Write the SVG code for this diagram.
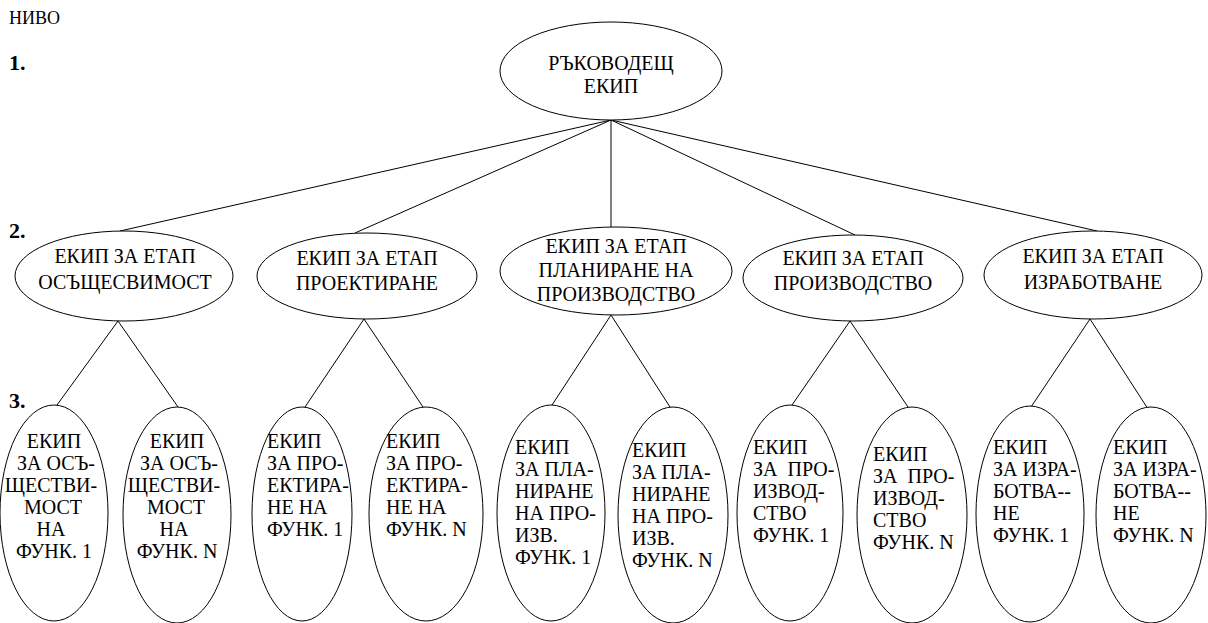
<svg xmlns="http://www.w3.org/2000/svg" width="1208" height="623" viewBox="0 0 1208 623">
<style>
.n{fill:#fff;stroke:#000;stroke-width:1}
.t{font-family:"Liberation Serif","Times New Roman",serif;font-size:20px;fill:#000}
.c{text-anchor:middle}
.b{font-weight:bold;font-size:22px}
.s{font-size:18px}
.e{stroke:#000;stroke-width:1;fill:none}
</style>
<rect width="1208" height="623" fill="#fff"/>
<g id="levels" class="t">
<text class="s" x="9" y="24">НИВО</text>
<text class="b" x="9" y="70">1.</text>
<text class="b" x="9" y="238">2.</text>
<text class="b" x="9" y="408">3.</text>
</g>
<g id="connectors" class="e">
<line x1="611" y1="120" x2="120" y2="231"/>
<line x1="611" y1="120" x2="355" y2="233"/>
<line x1="611" y1="120" x2="611" y2="227"/>
<line x1="611" y1="120" x2="855" y2="235"/>
<line x1="611" y1="120" x2="1097" y2="231"/>
<line x1="118" y1="321" x2="57" y2="405"/>
<line x1="118" y1="321" x2="178" y2="407"/>
<line x1="364" y1="319" x2="305" y2="407"/>
<line x1="364" y1="319" x2="423" y2="407"/>
<line x1="611" y1="315" x2="552" y2="405"/>
<line x1="611" y1="315" x2="670" y2="407"/>
<line x1="850" y1="321" x2="792" y2="405"/>
<line x1="850" y1="321" x2="908" y2="407"/>
<line x1="1090" y1="319" x2="1031" y2="407"/>
<line x1="1090" y1="319" x2="1148" y2="409"/>
</g>
<g id="root">
<ellipse class="n" cx="611" cy="71" rx="111" ry="49"/>
<text class="t c" x="611" y="70">РЪКОВОДЕЩ</text>
<text class="t c" x="611" y="93">ЕКИП</text>
</g>
<g id="s1">
<ellipse class="n" cx="124" cy="276" rx="109" ry="45"/>
<text class="t c" x="125" y="263">ЕКИП ЗА ЕТАП</text>
<text class="t c" x="125" y="289">ОСЪЩЕСВИМОСТ</text>
</g>
<g id="s2">
<ellipse class="n" cx="367" cy="276" rx="110" ry="43"/>
<text class="t c" x="367" y="265">ЕКИП ЗА ЕТАП</text>
<text class="t c" x="367" y="290">ПРОЕКТИРАНЕ</text>
</g>
<g id="s3">
<ellipse class="n" cx="616" cy="271" rx="116" ry="44"/>
<text class="t c" x="616" y="253">ЕКИП ЗА ЕТАП</text>
<text class="t c" x="616" y="277">ПЛАНИРАНЕ НА</text>
<text class="t c" x="616" y="301">ПРОИЗВОДСТВО</text>
</g>
<g id="s4">
<ellipse class="n" cx="853" cy="278" rx="110" ry="43"/>
<text class="t c" x="853" y="265">ЕКИП ЗА ЕТАП</text>
<text class="t c" x="853" y="290">ПРОИЗВОДСТВО</text>
</g>
<g id="s5">
<ellipse class="n" cx="1093" cy="275" rx="109" ry="44"/>
<text class="t c" x="1093" y="263">ЕКИП ЗА ЕТАП</text>
<text class="t c" x="1093" y="289">ИЗРАБОТВАНЕ</text>
</g>
<g id="f1">
<ellipse class="n" cx="54" cy="513" rx="54" ry="108"/>
<text class="t c"><tspan x="54" y="448">ЕКИП</tspan><tspan x="56" y="470">ЗА ОСЪ-</tspan><tspan x="51" y="492">ЩЕСТВИ-</tspan><tspan x="53" y="514">МОСТ</tspan><tspan x="51" y="536">НА</tspan><tspan x="54" y="558">ФУНК. 1</tspan></text>
</g>
<g id="f2">
<ellipse class="n" cx="177" cy="515" rx="54" ry="108"/>
<text class="t c"><tspan x="177" y="448">ЕКИП</tspan><tspan x="179" y="470">ЗА ОСЪ-</tspan><tspan x="174" y="492">ЩЕСТВИ-</tspan><tspan x="176" y="514">МОСТ</tspan><tspan x="174" y="536">НА</tspan><tspan x="177" y="558">ФУНК. N</tspan></text>
</g>
<g id="f3">
<ellipse class="n" cx="302" cy="514" rx="50" ry="107"/>
<text class="t"><tspan x="267" y="448">ЕКИП</tspan><tspan x="267" y="470">ЗА ПРО-</tspan><tspan x="267" y="492">ЕКТИРА-</tspan><tspan x="267" y="514">НЕ НА</tspan><tspan x="267" y="536">ФУНК. 1</tspan></text>
</g>
<g id="f4">
<ellipse class="n" cx="426" cy="514" rx="57" ry="107"/>
<text class="t"><tspan x="386" y="448">ЕКИП</tspan><tspan x="386" y="470">ЗА ПРО-</tspan><tspan x="386" y="492">ЕКТИРА-</tspan><tspan x="386" y="514">НЕ НА</tspan><tspan x="386" y="536">ФУНК. N</tspan></text>
</g>
<g id="f5">
<ellipse class="n" cx="551" cy="513" rx="54" ry="108"/>
<text class="t"><tspan x="515" y="454">ЕКИП</tspan><tspan x="515" y="476">ЗА ПЛА-</tspan><tspan x="515" y="498">НИРАНЕ</tspan><tspan x="515" y="520">НА ПРО-</tspan><tspan x="515" y="542">ИЗВ.</tspan><tspan x="515" y="564">ФУНК. 1</tspan></text>
</g>
<g id="f6">
<ellipse class="n" cx="673" cy="515" rx="55" ry="108"/>
<text class="t"><tspan x="632" y="457">ЕКИП</tspan><tspan x="632" y="479">ЗА ПЛА-</tspan><tspan x="632" y="501">НИРАНЕ</tspan><tspan x="632" y="523">НА ПРО-</tspan><tspan x="632" y="545">ИЗВ.</tspan><tspan x="632" y="567">ФУНК. N</tspan></text>
</g>
<g id="f7">
<ellipse class="n" cx="790" cy="513" rx="53" ry="108"/>
<text class="t" xml:space="preserve"><tspan x="753" y="454">ЕКИП</tspan><tspan x="753" y="476">ЗА  ПРО-</tspan><tspan x="753" y="498">ИЗВОД-</tspan><tspan x="753" y="520">СТВО</tspan><tspan x="753" y="542">ФУНК. 1</tspan></text>
</g>
<g id="f8">
<ellipse class="n" cx="912" cy="515" rx="55" ry="108"/>
<text class="t" xml:space="preserve"><tspan x="873" y="461">ЕКИП</tspan><tspan x="873" y="483">ЗА  ПРО-</tspan><tspan x="873" y="505">ИЗВОД-</tspan><tspan x="873" y="527">СТВО</tspan><tspan x="873" y="549">ФУНК. N</tspan></text>
</g>
<g id="f9">
<ellipse class="n" cx="1030" cy="514" rx="54" ry="108"/>
<text class="t"><tspan x="993" y="454">ЕКИП</tspan><tspan x="993" y="476">ЗА ИЗРА-</tspan><tspan x="993" y="498">БОТВА--</tspan><tspan x="993" y="520">НЕ</tspan><tspan x="993" y="542">ФУНК. 1</tspan></text>
</g>
<g id="f10">
<ellipse class="n" cx="1151" cy="515" rx="55" ry="108"/>
<text class="t"><tspan x="1113" y="454">ЕКИП</tspan><tspan x="1113" y="476">ЗА ИЗРА-</tspan><tspan x="1113" y="498">БОТВА--</tspan><tspan x="1113" y="520">НЕ</tspan><tspan x="1113" y="542">ФУНК. N</tspan></text>
</g>
</svg>
